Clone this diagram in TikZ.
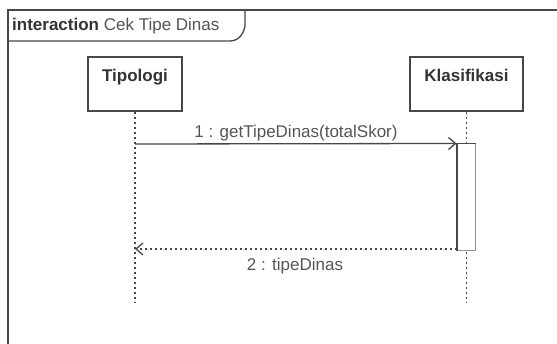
\documentclass[tikz,border=0pt]{standalone}
\usepackage{fontspec}
\setmainfont{Liberation Sans}
\usetikzlibrary{arrows.meta}
\definecolor{ln}{HTML}{474747}
\definecolor{tx}{HTML}{333333}
\definecolor{tl}{HTML}{555555}
\tikzset{
  objbox/.style={draw=ln, line width=1.6pt, fill=white, minimum width=#1, minimum height=54pt, inner sep=0pt},
  objname/.style={font=\fontsize{17}{20}\selectfont\bfseries, text=tx, inner sep=0pt, anchor=base},
  lifeline/.style={draw=ln, line width=1.3pt, dash pattern=on 2pt off 3pt},
  msglabel/.style={font=\fontsize{17}{20}\selectfont, text=tl, inner sep=0pt, anchor=base},
  callmsg/.style={draw=ln, line width=1.3pt, -{Straight Barb[length=7pt,width=12pt,line width=1.3pt]}},
  retmsg/.style={draw=ln, line width=1.3pt, dash pattern=on 2pt off 3pt, -{Straight Barb[length=7pt,width=12pt,line width=1.3pt]}},
  framestyle/.style={draw=ln, line width=1.6pt},
}
\begin{document}
\begin{tikzpicture}[x=1pt,y=-1pt]
\useasboundingbox (0,0) rectangle (557,344);
\fill[white] (0,0) rectangle (557,344);
% frame
\draw[framestyle] (557,10) -- (8,10) -- (8,344);
\draw[draw=ln, line width=1.3pt] (8,41) -- (230,41) to[out=0,in=-100] (245,26) -- (245,10);
\node[anchor=base west, inner sep=0pt, font=\fontsize{17}{20}\selectfont, text=tx] (title) at (12,31) {\textbf{interaction} {\color{tl}Cek Tipe Dinas}};
% objects
\node[objbox=94pt] (tip) at (135,84) {};
\node[objname] (tipname) at (135,82) {Tipologi};
\node[objbox=113pt] (kla) at (466.5,84) {};
\node[objname] (klaname) at (466.5,82) {Klasifikasi};
% lifeline ends
\coordinate (tipend) at (135,302);
\coordinate (klaend) at (466.5,302);
\draw[lifeline] (tip.south) -- (tipend);
\draw[lifeline] (kla.south) -- (klaend);
% activation
\node[draw=ln!60, line width=1pt, fill=white, minimum width=18pt, minimum height=107pt, inner sep=0pt] (act) at (466,197.5) {};
\draw[draw=ln, line width=2pt] (act.north west) -- (act.south west);
\draw[draw=ln, line width=1.3pt] (act.north west) -- (act.north east);
% messages
\coordinate (m1s) at (135,144);
\coordinate (m2e) at (135,249);
\draw[callmsg] (m1s) -- (act.north west);
\node[msglabel] (m1lab) at (296,138) {1 : getTipeDinas(totalSkor)};
\draw[retmsg] (act.south west |- m2e) -- (m2e);
\node[msglabel] (m2lab) at (295,271) {2 : tipeDinas};
\end{tikzpicture}
\end{document}
